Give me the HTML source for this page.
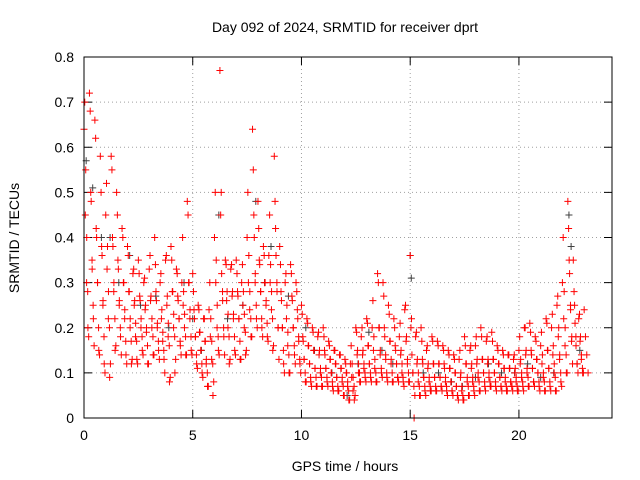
<!DOCTYPE html>
<html><head><meta charset="utf-8"><style>
html,body{margin:0;padding:0;background:#fff;}
svg{display:block;font-family:"Liberation Sans",sans-serif;}
</style></head><body>
<svg id="chart" width="640" height="480" viewBox="0 0 640 480">
<text x="345" y="32" text-anchor="middle" font-size="14">Day 092 of 2024, SRMTID for receiver dprt</text>
<text x="345" y="471" text-anchor="middle" font-size="14">GPS time / hours</text>
<text transform="translate(19,238) rotate(-90)" text-anchor="middle" font-size="14">SRMTID / TECUs</text>
<g id="grid"></g>
<g id="axes"></g>
<g id="gray"></g>
<g id="red"></g>
<rect x="84" y="57" width="528" height="361" fill="none" stroke="#000" stroke-width="1"/>
</svg>
<script>
const xTicks=[0,5,10,15,20];
const yTicks=[0,0.1,0.2,0.3,0.4,0.5,0.6,0.7,0.8];
const yTickLabels=["0","0.1","0.2","0.3","0.4","0.5","0.6","0.7","0.8"];
const redTimes=[0,0.25,0.5,0.75,1,1.25,1.5,1.75,2,2.25,2.5,2.75,3,3.25,3.5,3.75,4,4.25,4.5,4.75,5,5.25,5.5,5.75,6,6.25,6.5,6.75,7,7.25,7.5,7.75,8,8.25,8.5,8.75,9,9.25,9.5,9.75,10,10.25,10.5,10.75,11,11.25,11.5,11.75,12,12.25,12.5,12.75,13,13.25,13.5,13.75,14,14.25,14.5,14.75,15,15.25,15.5,15.75,16,16.25,16.5,16.75,17,17.25,17.5,17.75,18,18.25,18.5,18.75,19,19.25,19.5,19.75,20,20.25,20.5,20.75,21,21.25,21.5,21.75,22,22.25,22.5,22.75,23];
const redValues=[
[.64,.45,.30,.20],[.72,.50,.35,.22],[.66,.42,.30,.15],[.58,.38,.25,.12],[.45,.33,.22,.09],[.58,.40,.28,.15],[.50,.35,.25,.18],[.42,.30,.22,.14],[.38,.28,.20,.12],[.32,.25,.18,.13],[.35,.27,.20,.15],[.30,.24,.19,.12],[.33,.26,.20,.14],[.40,.28,.20,.15],[.30,.22,.17,.13],[.35,.25,.18,.08],[.38,.28,.20,.10],[.33,.27,.22,.16],[.30,.25,.20,.14],[.48,.30,.22,.15],[.32,.24,.18,.12],[.25,.19,.15,.10],[.22,.17,.12,.07],[.24,.18,.13,.05],[.40,.30,.20,.15],[.77,.50,.28,.18],[.35,.26,.20,.12],[.33,.27,.22,.15],[.35,.28,.22,.13],[.30,.25,.20,.14],[.40,.30,.24,.18],[.64,.45,.30,.22],[.48,.35,.28,.20],[.38,.30,.25,.18],[.36,.30,.24,.15],[.58,.42,.30,.20],[.38,.28,.20,.12],[.30,.22,.16,.10],[.34,.27,.20,.14],[.30,.24,.18,.12],[.25,.18,.13,.08],[.22,.16,.12,.08],[.20,.15,.11,.07],[.18,.14,.10,.07],[.20,.15,.11,.08],[.17,.13,.10,.07],[.15,.12,.09,.06],[.14,.11,.08,.05],[.13,.10,.07,.04],[.12,.09,.06,.04],[.20,.14,.10,.08],[.18,.14,.11,.09],[.22,.16,.12,.09],[.20,.15,.11,.08],[.32,.20,.14,.10],[.30,.20,.14,.09],[.25,.17,.12,.08],[.22,.16,.12,.09],[.18,.14,.10,.08],[.24,.17,.12,.08],[.36,.22,.10,.00],[.18,.12,.08,.05],[.20,.13,.09,.06],[.15,.11,.08,.06],[.18,.12,.09,.06],[.17,.12,.09,.07],[.16,.12,.08,.06],[.15,.11,.08,.06],[.14,.10,.07,.05],[.13,.09,.06,.04],[.18,.12,.08,.05],[.15,.11,.08,.06],[.16,.12,.09,.06],[.20,.13,.10,.07],[.17,.12,.09,.07],[.19,.13,.10,.07],[.16,.12,.09,.07],[.15,.11,.08,.06],[.14,.11,.08,.07],[.13,.10,.08,.06],[.15,.12,.09,.07],[.20,.14,.10,.07],[.21,.15,.11,.08],[.18,.13,.10,.07],[.16,.12,.09,.06],[.22,.15,.11,.07],[.20,.14,.10,.06],[.25,.18,.13,.08],[.30,.22,.16,.10],[.48,.35,.25,.18],[.35,.25,.18,.12],[.22,.17,.13,.10],[.24,.18,.14,.10]];
const redTimes2=[0.125,0.375,0.625,0.875,1.125,1.375,1.625,1.875,2.125,2.375,2.625,2.875,3.125,3.375,3.625,3.875,4.125,4.375,4.625,4.875,5.125,5.375,5.625,5.875,6.125,6.375,6.625,6.875,7.125,7.375,7.625,7.875,8.125,8.375,8.625,8.875,9.125,9.375,9.625,9.875,10.125,10.375,10.625,10.875,11.125,11.375,11.625,11.875,12.125,12.375,12.625,12.875,13.125,13.375,13.625,13.875,14.125,14.375,14.625,14.875,15.125,15.375,15.625,15.875,16.125,16.375,16.625,16.875,17.125,17.375,17.625,17.875,18.125,18.375,18.625,18.875,19.125,19.375,19.625,19.875,20.125,20.375,20.625,20.875,21.125,21.375,21.625,21.875,22.125,22.375,22.625,22.875];
const redValues2=[
[.70,.55,.40,.28,.18],[.68,.48,.33,.25,.16],[.62,.40,.30,.20,.14],[.50,.36,.26,.18,.10],[.52,.38,.28,.20,.12],[.55,.38,.30,.22,.16],[.45,.33,.26,.20,.14],[.40,.30,.24,.17,.12],[.36,.28,.22,.17,.13],[.33,.26,.21,.17,.12],[.32,.26,.22,.18,.14],[.31,.25,.20,.16,.12],[.36,.27,.22,.18,.14],[.34,.26,.21,.17,.13],[.32,.24,.19,.15,.10],[.36,.27,.21,.16,.09],[.35,.28,.23,.18,.13],[.32,.26,.22,.17,.14],[.40,.28,.23,.18,.14],[.45,.30,.24,.18,.14],[.28,.22,.18,.14,.11],[.24,.19,.15,.12,.09],[.22,.17,.13,.10,.07],[.30,.22,.17,.12,.08],[.50,.35,.25,.18,.14],[.45,.32,.26,.20,.14],[.34,.28,.23,.18,.13],[.34,.28,.23,.18,.14],[.32,.27,.22,.17,.13],[.34,.28,.23,.19,.15],[.50,.36,.28,.22,.18],[.55,.40,.32,.25,.20],[.42,.34,.28,.22,.18],[.36,.30,.26,.21,.17],[.45,.34,.28,.22,.16],[.48,.36,.28,.20,.13],[.34,.26,.20,.15,.10],[.32,.25,.19,.14,.10],[.32,.26,.20,.16,.12],[.28,.22,.17,.13,.10],[.23,.17,.13,.10,.08],[.21,.16,.12,.09,.07],[.19,.15,.11,.09,.07],[.19,.15,.11,.09,.07],[.18,.14,.11,.09,.07],[.16,.13,.10,.08,.06],[.15,.12,.09,.07,.06],[.14,.11,.09,.07,.05],[.12,.10,.08,.06,.04],[.16,.12,.09,.07,.05],[.19,.15,.12,.10,.08],[.20,.15,.12,.10,.08],[.21,.16,.12,.10,.08],[.26,.18,.13,.10,.08],[.30,.20,.15,.11,.09],[.27,.18,.13,.10,.08],[.23,.17,.13,.10,.08],[.20,.15,.12,.09,.08],[.21,.15,.12,.09,.07],[.25,.18,.13,.10,.08],[.20,.14,.10,.07,.05],[.19,.13,.10,.07,.05],[.17,.12,.09,.07,.05],[.16,.12,.09,.07,.06],[.17,.12,.09,.07,.06],[.16,.12,.09,.07,.06],[.15,.11,.09,.07,.05],[.14,.11,.08,.06,.05],[.13,.10,.07,.05,.04],[.15,.10,.07,.05,.04],[.16,.12,.09,.07,.05],[.16,.12,.09,.07,.05],[.18,.13,.10,.08,.06],[.18,.13,.10,.08,.06],[.18,.13,.10,.08,.07],[.17,.13,.10,.08,.06],[.15,.12,.09,.07,.06],[.14,.11,.09,.07,.06],[.14,.11,.08,.07,.06],[.14,.11,.09,.07,.06],[.18,.13,.10,.08,.06],[.20,.15,.11,.09,.07],[.19,.14,.11,.08,.07],[.17,.13,.10,.08,.06],[.19,.14,.10,.08,.06],[.21,.15,.11,.08,.06],[.23,.16,.12,.09,.06],[.27,.20,.14,.10,.07],[.40,.28,.20,.14,.10],[.42,.32,.24,.17,.12],[.28,.21,.16,.12,.10],[.23,.18,.14,.11,.10]];
const grayTimes=[0.1,0.4,0.8,1.2,1.6,2.1,2.6,3.3,3.9,4.6,5.0,5.4,6.2,6.6,7.3,7.9,8.3,8.6,9.4,10.2,10.6,11.4,12.1,12.6,13.1,13.7,14.2,15.0,15.05,15.6,16.3,16.9,17.4,18.0,18.6,19.2,19.8,20.4,21.0,21.6,22.3,22.4,22.8];
const grayValues=[.57,.51,.40,.40,.30,.36,.25,.27,.20,.30,.22,.15,.45,.22,.25,.48,.30,.38,.27,.20,.15,.10,.05,.12,.19,.15,.12,.36,.31,.10,.10,.08,.07,.09,.12,.10,.10,.12,.09,.10,.45,.38,.15];

const X0=84,X1=612,Y0=418,Y1=57,XMAX=24.28,YMAX=0.8;
const sx=t=>X0+t/XMAX*(X1-X0);
const sy=v=>Y0-v/YMAX*(Y0-Y1);
const NS="http://www.w3.org/2000/svg";
const grid=document.getElementById('grid'),axes=document.getElementById('axes');
function mk(tag,attrs,parent){const e=document.createElementNS(NS,tag);for(const k in attrs)e.setAttribute(k,attrs[k]);parent.appendChild(e);return e;}
yTicks.forEach((v,i)=>{
  const y=sy(v);
  if(i>0&&i<yTicks.length-1){const g=mk('line',{x1:X0,x2:X1,y1:y,y2:y,stroke:'#a0a0a0','stroke-dasharray':'1,3'},grid);
  
  }
  mk('line',{x1:X0,x2:X0+8,y1:y,y2:y,stroke:'#000'},axes);
  mk('line',{x1:X1,x2:X1-8,y1:y,y2:y,stroke:'#000'},axes);
  const t=mk('text',{x:X0-10,y:y+5,'text-anchor':'end','font-size':'14'},axes);
  t.textContent=yTickLabels[i];
  
  
});
xTicks.forEach(v=>{
  const x=sx(v);
  if(v>0){const g=mk('line',{x1:x,x2:x,y1:Y0,y2:Y1,stroke:'#a0a0a0','stroke-dasharray':'1,3'},grid);
  
  }
  mk('line',{x1:x,x2:x,y1:Y0,y2:Y0-8,stroke:'#000'},axes);
  mk('line',{x1:x,x2:x,y1:Y1,y2:Y1+8,stroke:'#000'},axes);
  const t=mk('text',{x:x,y:Y0+22,'text-anchor':'middle','font-size':'14'},axes);
  t.textContent=String(v);
  
  
});
function cross(t,v,color,parent,name){
  const x=sx(t),y=sy(v);
  const p=mk('path',{d:`M${x-3.5},${y}h7M${x},${y-3.5}v7`,stroke:color,'stroke-width':1,fill:'none'},parent);
  
  
}
const gray=document.getElementById('gray'),red=document.getElementById('red');
grayTimes.forEach((t,i)=>cross(t,grayValues[i],'#404040',gray,'gray-point'));
redTimes.forEach((t,i)=>{redValues[i].forEach((v,j)=>cross(t+j*0.06,v,'#ff0000',red,'red-point'));});
redTimes2.forEach((t,i)=>{redValues2[i].forEach((v,j)=>cross(t+j*0.045-0.09,v,'#ff0000',red,'red-point'));});
</script>
</body></html>
